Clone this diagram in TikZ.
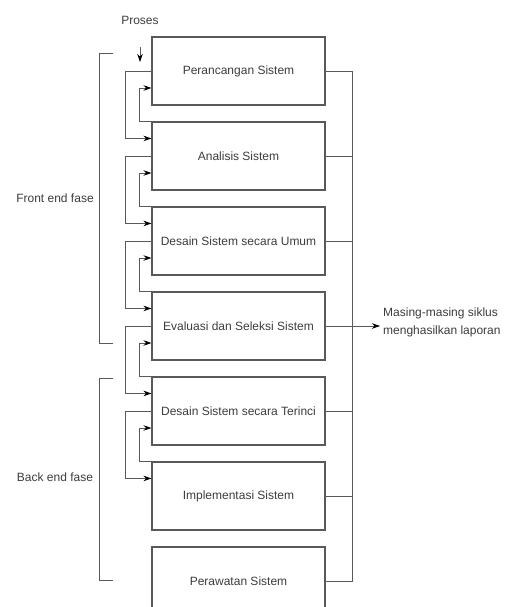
\documentclass[tikz,border=0pt]{standalone}
\usepackage{fontspec}
\setmainfont{Liberation Sans}
\usepackage{xcolor}
\usetikzlibrary{arrows.meta}
\definecolor{linegray}{HTML}{595959}
\definecolor{textgray}{HTML}{3C3C3C}
\tikzset{
  label text/.style={
    draw=none, text=textgray, inner sep=3pt,
    font=\fontsize{12}{18}\selectfont
  }
}
\begin{document}
\begin{tikzpicture}[x=1pt,y=-1pt]
\useasboundingbox (0,0) rectangle (504,607);
\begin{scope}[every node/.style={rectangle,draw=linegray,line width=1.1pt,
              minimum width=173pt,minimum height=68pt,inner sep=0pt,
              text=textgray,font=\fontsize{12}{14}\selectfont}]
    \node (A) at (238.5,71) {Perancangan Sistem};
    \node (B) at (238.5,156) {Analisis Sistem};
    \node (C) at (238.5,241) {Desain Sistem secara Umum};
    \node (D) at (238.5,326) {Evaluasi dan Seleksi Sistem};
    \node (E) at (238.5,411) {Desain Sistem secara Terinci};
    \node (F) at (238.5,496) {Implementasi Sistem};
    \node (G) at (238.5,581) {Perawatan Sistem};
\end{scope}
    \node[label text] (proses) at (140,20) {Proses};
    \node[label text] (front) at (55,198) {Front end fase};
    \node[label text] (back) at (55,477) {Back end fase};
    \node[label text,align=left,anchor=west] (laporan) at (380,322)
        {Masing-masing siklus\\menghasilkan laporan};
    \coordinate (masuk) at (140,62);
    \coordinate (bustop) at (352,71);
    \coordinate (busbot) at (352,581);
\begin{scope}[>={Stealth[length=8pt,width=5.5pt,black]},
              every path/.style={draw=linegray,line width=0.8pt}]
    % masuk proses
    \draw [->] ([yshift=-20pt]proses.south) -- (masuk);
    % maju ke tahap berikutnya
    \draw [->] (A.west) -- ++(-26,0) |- ([yshift=-17pt]B.north west);
    \draw [->] (B.west) -- ++(-26,0) |- ([yshift=-17pt]C.north west);
    \draw [->] (C.west) -- ++(-26,0) |- ([yshift=-17pt]D.north west);
    \draw [->] (D.west) -- ++(-26,0) |- ([yshift=-17pt]E.north west);
    \draw [->] (E.west) -- ++(-26,0) |- ([yshift=-17pt]F.north west);
    % umpan balik ke tahap sebelumnya
    \draw [->] (B.north west) -- ++(-12,0) |- ([yshift=-17pt]A.west);
    \draw [->] (C.north west) -- ++(-12,0) |- ([yshift=-17pt]B.west);
    \draw [->] (D.north west) -- ++(-12,0) |- ([yshift=-17pt]C.west);
    \draw [->] (E.north west) -- ++(-12,0) |- ([yshift=-17pt]D.west);
    \draw [->] (F.north west) -- ++(-12,0) |- ([yshift=-17pt]E.west);
    % laporan tiap siklus
    \draw [-] (A.east) -- (bustop) -- (busbot) -- (G.east);
    \draw [-] (B.east) -- (B.east -| bustop);
    \draw [-] (C.east) -- (C.east -| bustop);
    \draw [-] (E.east) -- (E.east -| bustop);
    \draw [-] (F.east) -- (F.east -| bustop);
    \draw [->] (D.east) -- (D.east -| laporan.west);
    % kurung fase
    \draw [-] (113,53) -- (99,53) -- (99,343) -- (113,343);
    \draw [-] (113,378) -- (99,378) -- (99,580) -- (113,580);
\end{scope}
\end{tikzpicture}
\end{document}
